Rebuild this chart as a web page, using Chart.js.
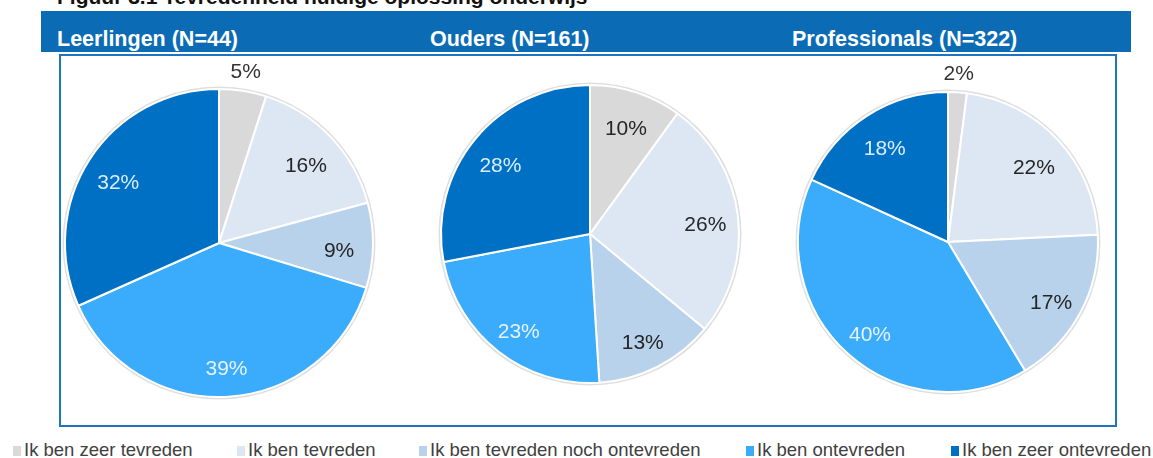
<!DOCTYPE html>
<html>
<head>
<meta charset="utf-8">
<script src="https://cdn.jsdelivr.net/npm/chart.js@4/dist/chart.umd.min.js"></script>
<style>
  body { margin: 0; width: 1153px; height: 458px; background: #fff; position: relative; overflow: hidden; font-family: "Liberation Sans", Arial, sans-serif; }
  .abs { position: absolute; }
  #figtitle { left: 57px; top: -14px; font-size: 21px; line-height: 21px; font-weight: bold; color: #111; white-space: nowrap; }
  #band { left: 41px; top: 11px; width: 1090px; height: 41px; background: #0b6cb5; }
  .ptitle { top: 27px; font-size: 21.5px; line-height: 24px; font-weight: bold; color: #fff; white-space: nowrap; }
  #box { left: 59px; top: 54px; width: 1054px; height: 369px; border: 2px solid #1f74c1; }
  .leg { top: 440px; font-size: 18.5px; line-height: 20px; color: #404040; white-space: nowrap; }
  .leg i { display: inline-block; width: 8px; height: 10px; margin-right: 3px; vertical-align: 0px; }
</style>
</head>
<body>
<div id="figtitle" class="abs">Figuur 3.1 Tevredenheid huidige oplossing onderwijs</div>
<div id="band" class="abs"></div>
<div id="box" class="abs"></div>
<canvas id="pie0" class="abs" width="360" height="360" style="left:39px;top:63px"></canvas>
<canvas id="pie1" class="abs" width="350" height="350" style="left:415px;top:59px"></canvas>
<canvas id="pie2" class="abs" width="352" height="352" style="left:772px;top:66px"></canvas>
<script>
// categories (legend order = slice order, clockwise from top)
var categories = ['Ik ben zeer tevreden', 'Ik ben tevreden', 'Ik ben tevreden noch ontevreden', 'Ik ben ontevreden', 'Ik ben zeer ontevreden'];
var colors = ['#d9d9d9', '#dce7f3', '#b7d2ea', '#3aacfb', '#0070c4'];
var labelColors = ['#262626', '#262626', '#262626', '#e6f2ff', '#dbeeff'];

var groupTitles = ['Leerlingen (N=44)', 'Ouders (N=161)', 'Professionals (N=322)'];
var leerlingen = [5, 16, 9, 39, 32];
var ouders = [10, 26, 13, 23, 28];
var professionals = [2, 22, 17, 40, 18];

var titleLefts = [57, 430, 792];
var legendLefts = [13, 237, 419, 746, 951];

groupTitles.forEach(function(t, i) {
  var d = document.createElement('div');
  d.className = 'abs ptitle';
  d.style.left = titleLefts[i] + 'px';
  d.textContent = t;
  document.body.appendChild(d);
});

categories.forEach(function(c, i) {
  var d = document.createElement('div');
  d.className = 'abs leg';
  d.style.left = legendLefts[i] + 'px';
  d.innerHTML = "<i style='background:" + colors[i] + "'></i>" + c;
  document.body.appendChild(d);
});

// percentage labels inside the slices, small slices go outside
var pctLabels = {
  id: 'pctLabels',
  beforeDatasetsDraw: function(chart) {
    var arc = chart.getDatasetMeta(0).data[0];
    var ctx = chart.ctx;
    ctx.save();
    ctx.beginPath();
    ctx.arc(arc.x, arc.y, arc.outerRadius + 1, 0, Math.PI * 2);
    ctx.strokeStyle = 'rgba(0,0,0,0.13)';
    ctx.lineWidth = 3;
    ctx.stroke();
    ctx.restore();
  },
  afterDatasetsDraw: function(chart) {
    var ctx = chart.ctx;
    var values = chart.data.datasets[0].data;
    ctx.save();
    ctx.font = '21px "Liberation Sans", Arial, sans-serif';
    ctx.textAlign = 'center';
    ctx.textBaseline = 'middle';
    chart.getDatasetMeta(0).data.forEach(function(a, i) {
      var mid = (a.startAngle + a.endAngle) / 2;
      var small = values[i] < 6;
      var f = small ? 1.12 : 0.78;
      var x = a.x + Math.cos(mid) * a.outerRadius * f;
      var y = a.y + Math.sin(mid) * a.outerRadius * f + (small ? 0 : 6);
      ctx.fillStyle = small ? '#333333' : labelColors[i];
      ctx.fillText(values[i] + '%', x, y);
    });
    ctx.restore();
  }
};

function makePie(id, values) {
  new Chart(document.getElementById(id).getContext('2d'), {
    type: 'pie',
    data: {
      labels: categories,
      datasets: [{
        data: values,
        backgroundColor: colors,
        borderColor: '#ffffff',
        borderWidth: 2
      }]
    },
    options: {
      responsive: false,
      animation: false,
      layout: { padding: 25 },
      plugins: { legend: { display: false }, tooltip: { enabled: false } }
    },
    plugins: [pctLabels]
  });
}

makePie('pie0', leerlingen);
makePie('pie1', ouders);
makePie('pie2', professionals);
</script>
</body>
</html>
